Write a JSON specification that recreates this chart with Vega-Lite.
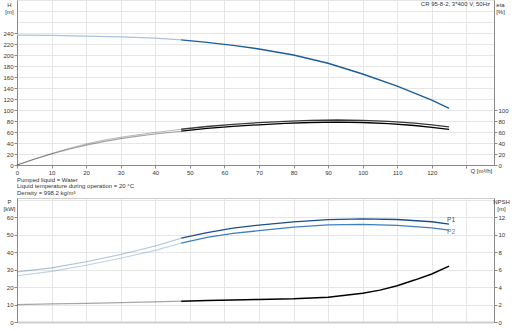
{
  "$schema": "https://vega.github.io/schema/vega-lite/v6.json",
  "padding": {"left": 2, "top": -4, "right": 0, "bottom": 0},
  "spacing": 0,
  "resolve": {"scale": {"color": "independent"}},
  "config": {
    "font": "Liberation Sans",
    "view": {"stroke": "#cccccc"},
    "axis": {"labelFontSize": 6, "labelColor": "#333333", "titleColor": "#333333", "titleFontSize": 6, "titleFontWeight": "normal", "gridColor": "#e6e6e6", "domainColor": "#8a8a8a", "tickColor": "#8a8a8a", "tickSize": 3, "labelPadding": 1, "labelOverlap": false},
    "title": {"font": "Liberation Sans"}
  },
  "datasets": {
    "curves": [
      {"c": "H", "q": 0, "v": 236}, {"c": "H", "q": 10, "v": 235.5}, {"c": "H", "q": 20, "v": 234.5}, {"c": "H", "q": 30, "v": 233}, {"c": "H", "q": 40, "v": 230.5}, {"c": "H", "q": 47.5, "v": 227.5}, {"c": "H", "q": 55, "v": 223}, {"c": "H", "q": 62.5, "v": 217.5}, {"c": "H", "q": 70, "v": 211}, {"c": "H", "q": 80, "v": 200}, {"c": "H", "q": 90, "v": 185}, {"c": "H", "q": 100, "v": 165.5}, {"c": "H", "q": 110, "v": 143.5}, {"c": "H", "q": 120, "v": 118}, {"c": "H", "q": 125, "v": 103},
      {"c": "eta1", "q": 0, "v": 0}, {"c": "eta1", "q": 5, "v": 11}, {"c": "eta1", "q": 10, "v": 21}, {"c": "eta1", "q": 15, "v": 30}, {"c": "eta1", "q": 20, "v": 38}, {"c": "eta1", "q": 25, "v": 45}, {"c": "eta1", "q": 30, "v": 50.5}, {"c": "eta1", "q": 35, "v": 55}, {"c": "eta1", "q": 40, "v": 59}, {"c": "eta1", "q": 47.5, "v": 65}, {"c": "eta1", "q": 55, "v": 70}, {"c": "eta1", "q": 62.5, "v": 74}, {"c": "eta1", "q": 70, "v": 77}, {"c": "eta1", "q": 77.5, "v": 79.5}, {"c": "eta1", "q": 85, "v": 81.2}, {"c": "eta1", "q": 92.5, "v": 81.8}, {"c": "eta1", "q": 100, "v": 81.3}, {"c": "eta1", "q": 107.5, "v": 79.5}, {"c": "eta1", "q": 115, "v": 76}, {"c": "eta1", "q": 120, "v": 73}, {"c": "eta1", "q": 125, "v": 69.5},
      {"c": "eta2", "q": 0, "v": 0}, {"c": "eta2", "q": 5, "v": 10.5}, {"c": "eta2", "q": 10, "v": 20}, {"c": "eta2", "q": 15, "v": 28.5}, {"c": "eta2", "q": 20, "v": 36}, {"c": "eta2", "q": 25, "v": 42.5}, {"c": "eta2", "q": 30, "v": 48}, {"c": "eta2", "q": 35, "v": 52.5}, {"c": "eta2", "q": 40, "v": 56.5}, {"c": "eta2", "q": 47.5, "v": 61.5}, {"c": "eta2", "q": 55, "v": 66.5}, {"c": "eta2", "q": 62.5, "v": 70.3}, {"c": "eta2", "q": 70, "v": 73.1}, {"c": "eta2", "q": 77.5, "v": 75.7}, {"c": "eta2", "q": 85, "v": 77.3}, {"c": "eta2", "q": 92.5, "v": 77.9}, {"c": "eta2", "q": 100, "v": 77.3}, {"c": "eta2", "q": 107.5, "v": 75.3}, {"c": "eta2", "q": 115, "v": 71.8}, {"c": "eta2", "q": 120, "v": 68.5}, {"c": "eta2", "q": 125, "v": 64.8},
      {"c": "P1", "q": 0, "v": 28.7}, {"c": "P1", "q": 10, "v": 31}, {"c": "P1", "q": 20, "v": 34.5}, {"c": "P1", "q": 30, "v": 38.6}, {"c": "P1", "q": 40, "v": 43.5}, {"c": "P1", "q": 47.5, "v": 48}, {"c": "P1", "q": 55, "v": 51.2}, {"c": "P1", "q": 62.5, "v": 53.7}, {"c": "P1", "q": 70, "v": 55.5}, {"c": "P1", "q": 80, "v": 57.3}, {"c": "P1", "q": 90, "v": 58.6}, {"c": "P1", "q": 100, "v": 59.1}, {"c": "P1", "q": 110, "v": 58.7}, {"c": "P1", "q": 120, "v": 57.4}, {"c": "P1", "q": 125, "v": 56},
      {"c": "P2", "q": 0, "v": 26.5}, {"c": "P2", "q": 10, "v": 29}, {"c": "P2", "q": 20, "v": 32.5}, {"c": "P2", "q": 30, "v": 36.5}, {"c": "P2", "q": 40, "v": 41}, {"c": "P2", "q": 47.5, "v": 45.2}, {"c": "P2", "q": 55, "v": 48.4}, {"c": "P2", "q": 62.5, "v": 50.7}, {"c": "P2", "q": 70, "v": 52.3}, {"c": "P2", "q": 80, "v": 54.3}, {"c": "P2", "q": 90, "v": 55.6}, {"c": "P2", "q": 100, "v": 55.9}, {"c": "P2", "q": 110, "v": 55.3}, {"c": "P2", "q": 120, "v": 53.9}, {"c": "P2", "q": 125, "v": 52.6},
      {"c": "NPSH", "q": 0, "v": 2.0}, {"c": "NPSH", "q": 10, "v": 2.07}, {"c": "NPSH", "q": 20, "v": 2.14}, {"c": "NPSH", "q": 30, "v": 2.22}, {"c": "NPSH", "q": 40, "v": 2.3}, {"c": "NPSH", "q": 47.5, "v": 2.38}, {"c": "NPSH", "q": 55, "v": 2.45}, {"c": "NPSH", "q": 62.5, "v": 2.52}, {"c": "NPSH", "q": 70, "v": 2.58}, {"c": "NPSH", "q": 80, "v": 2.66}, {"c": "NPSH", "q": 90, "v": 2.84}, {"c": "NPSH", "q": 100, "v": 3.3}, {"c": "NPSH", "q": 105, "v": 3.65}, {"c": "NPSH", "q": 110, "v": 4.15}, {"c": "NPSH", "q": 115, "v": 4.8}, {"c": "NPSH", "q": 120, "v": 5.5}, {"c": "NPSH", "q": 125, "v": 6.4}
    ],
    "labels": [
      {"c": "P1", "q": 125, "v": 56, "t": "P1"},
      {"c": "P2", "q": 125, "v": 52.6, "t": "P2"}
    ],
    "info": [
      {"t": "CR 95-8-2, 3*400 V, 50Hz"}
    ]
  },
  "vconcat": [
    {
      "width": 477,
      "height": 165,
      "title": {"text": "CR 95-8-2, 3*400 V, 50Hz", "anchor": "end", "frame": "group", "orient": "top", "offset": -10, "dx": -4, "fontSize": 6, "fontWeight": "normal", "color": "#333333"},
      "resolve": {"scale": {"y": "independent"}},
      "encoding": {
        "x": {"field": "q", "type": "quantitative", "scale": {"domain": [0, 138], "nice": false, "zero": false},
          "axis": {"values": [0, 10, 20, 30, 40, 50, 60, 70, 80, 90, 100, 110, 120, 130], "labelOverlap": false, "labelFlush": false, "labelExpr": "datum.value == 130 ? '' : datum.label", "title": "Q [m³/h]", "titleX": 453, "titleY": 5, "titleAlign": "left", "titleBaseline": "middle", "titleAngle": 0, "grid": true}}
      },
      "layer": [
        {
          "encoding": {
            "y": {"field": "v", "type": "quantitative", "scale": {"domain": [0, 300], "nice": false},
              "axis": {"values": [0, 20, 40, 60, 80, 100, 120, 140, 160, 180, 200, 220, 240, 260, 280, 300], "labelOverlap": false, "labelExpr": "datum.value <= 240 ? datum.label : ''", "tickOpacity": {"expr": "datum.value <= 240 ? 1 : 0"}, "title": ["H", "[m]"], "titleAngle": 0, "titleAlign": "center", "titleBaseline": "top", "titleX": -8, "titleY": 1, "titleLineHeight": 7, "grid": true}}
          },
          "layer": [
            {"data": {"name": "info"}, "mark": {"type": "rect", "fill": "white", "stroke": "#bdbdbd", "strokeWidth": 0.8},
              "encoding": {"x": {"datum": 119.1, "type": "quantitative"}, "x2": {"datum": 138}, "y": {"datum": 280, "type": "quantitative"}, "y2": {"datum": 300}}},
            {"data": {"name": "curves"}, "transform": [{"filter": "datum.c == 'H' && datum.q <= 47.5"}], "mark": {"type": "line", "color": "#a9c3e0", "strokeWidth": 1.3}},
            {"data": {"name": "curves"}, "transform": [{"filter": "datum.c == 'H' && datum.q >= 47.5"}], "mark": {"type": "line", "color": "#1d5c9c", "strokeWidth": 1.4}}
          ]
        },
        {
          "data": {"name": "curves"},
          "encoding": {
            "y": {"field": "v", "type": "quantitative", "scale": {"domain": [0, 300], "nice": false},
              "axis": {"orient": "right", "values": [0, 20, 40, 60, 80, 100], "grid": false, "title": ["eta", "[%]"], "titleAngle": 0, "titleAlign": "center", "titleBaseline": "top", "titleX": 6, "titleY": 1, "titleLineHeight": 7}},
            "color": {"field": "c", "type": "nominal", "scale": {"domain": ["eta1", "eta2"], "range": ["#3a3a3a", "#000000"]}, "legend": null}
          },
          "layer": [
            {"transform": [{"filter": "(datum.c == 'eta1' || datum.c == 'eta2') && datum.q <= 47.5"}], "mark": {"type": "line", "strokeWidth": 1.1, "opacity": 0.35}},
            {"transform": [{"filter": "(datum.c == 'eta1' || datum.c == 'eta2') && datum.q >= 47.5"}], "mark": {"type": "line", "strokeWidth": 1.3}}
          ]
        }
      ]
    },
    {
      "width": 477,
      "height": 124,
      "title": {"text": ["Pumped liquid = Water", "Liquid temperature during operation = 20 °C", "Density = 998.2 kg/m³"], "anchor": "start", "frame": "group", "fontSize": 6, "fontWeight": "normal", "color": "#333333", "lineHeight": 6.5, "offset": 1},
      "resolve": {"scale": {"y": "independent"}},
      "encoding": {
        "x": {"field": "q", "type": "quantitative", "scale": {"domain": [0, 138], "nice": false, "zero": false},
          "axis": {"values": [0, 10, 20, 30, 40, 50, 60, 70, 80, 90, 100, 110, 120, 130], "labels": false, "ticks": false, "title": null, "grid": true, "domainColor": "#cfcfcf", "domainWidth": 2}}
      },
      "layer": [
        {
          "encoding": {
            "y": {"field": "v", "type": "quantitative", "scale": {"domain": [0, 71], "nice": false},
              "axis": {"values": [0, 10, 20, 30, 40, 50, 60, 70], "labelOverlap": false, "labelExpr": "datum.value <= 60 ? datum.label : ''", "tickOpacity": {"expr": "datum.value <= 60 ? 1 : 0"}, "title": ["P", "[kW]"], "titleAngle": 0, "titleAlign": "center", "titleBaseline": "top", "titleX": -8, "titleY": 0, "titleLineHeight": 7, "grid": true}},
            "color": {"field": "c", "type": "nominal", "scale": {"domain": ["P1", "P2"], "range": ["#1b4f8c", "#3f7fc0"]}, "legend": null}
          },
          "layer": [
            {"data": {"name": "curves"}, "transform": [{"filter": "(datum.c == 'P1' || datum.c == 'P2') && datum.q <= 47.5"}], "mark": {"type": "line", "strokeWidth": 1.1, "opacity": 0.35}},
            {"data": {"name": "curves"}, "transform": [{"filter": "(datum.c == 'P1' || datum.c == 'P2') && datum.q >= 47.5"}], "mark": {"type": "line", "strokeWidth": 1.3}},
            {"data": {"name": "labels"}, "transform": [{"filter": "datum.c == 'P1'"}], "mark": {"type": "text", "fontSize": 6.5, "align": "left", "baseline": "middle", "dx": -2, "dy": -4},
              "encoding": {"text": {"field": "t"}}},
            {"data": {"name": "labels"}, "transform": [{"filter": "datum.c == 'P2'"}], "mark": {"type": "text", "fontSize": 6.5, "align": "left", "baseline": "middle", "dx": -2, "dy": 2},
              "encoding": {"text": {"field": "t"}}}
          ]
        },
        {
          "data": {"name": "curves"},
          "transform": [{"filter": "datum.c == 'NPSH'"}],
          "encoding": {
            "y": {"field": "v", "type": "quantitative", "scale": {"domain": [0, 14.2], "nice": false},
              "axis": {"orient": "right", "values": [0, 2, 4, 6, 8, 10, 12], "grid": false, "title": ["NPSH", "[m]"], "titleAngle": 0, "titleAlign": "center", "titleBaseline": "top", "titleX": 7, "titleY": 0, "titleLineHeight": 7}}
          },
          "layer": [
            {"transform": [{"filter": "datum.q <= 47.5"}], "mark": {"type": "line", "color": "#000000", "strokeWidth": 1.2, "opacity": 0.35}},
            {"transform": [{"filter": "datum.q >= 47.5"}], "mark": {"type": "line", "color": "#000000", "strokeWidth": 1.5}}
          ]
        }
      ]
    }
  ]
}
